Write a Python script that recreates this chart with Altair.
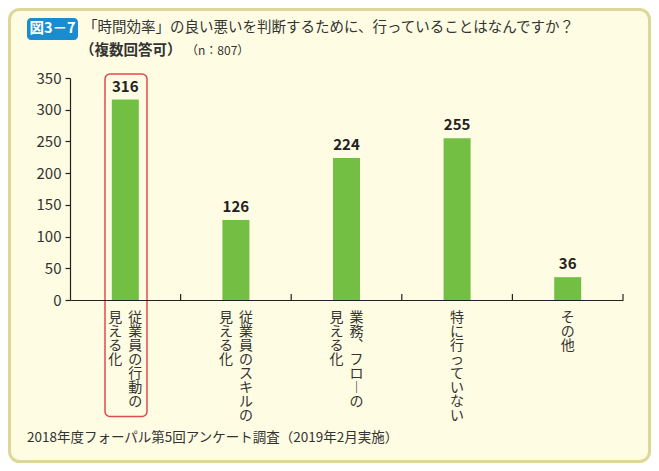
import altair as alt
import pandas as pd

# ---- data ----
col_main = ["従業員の行動の", "従業員のスキルの", "業務、フローの", "特に行っていない", "その他"]
col_sub = ["見える化", "見える化", "見える化", "", ""]
values = [316, 126, 224, 255, 36]
y_ticks = [0, 50, 100, 150, 200, 250, 300, 350]

title_line1 = "「時間効率」の良い悪いを判断するために、行っていることはなんですか？"
title_line2 = "（複数回答可）"
title_n = "（n：807）"
badge = "図3－7"
footnote = "2018年度フォーパル第5回アンケート調査（2019年2月実施）"

FONT = "Noto Sans CJK JP"
TXT = "#333333"
W, H = 553, 222

VERT = {"、": "︑", "ー": "︱"}


def vertical(s):
    return "\n".join(VERT.get(c, c) for c in s)


n = len(values)
bars = pd.DataFrame({"pos": [i + 0.5 for i in range(n)], "value": values})

rows = []
for i, (a, b) in enumerate(zip(col_main, col_sub)):
    if b:
        rows.append({"pos": i + 0.5, "t": vertical(a), "col": "right"})
        rows.append({"pos": i + 0.5, "t": vertical(b), "col": "left"})
    else:
        rows.append({"pos": i + 0.5, "t": vertical(a), "col": "single"})
labels = pd.DataFrame(rows)
bounds = pd.DataFrame({"b": list(range(1, n + 1))})

xs = alt.Scale(domain=[0, n], nice=False, zero=False, padding=0)
ys = alt.Scale(domain=[0, 350], nice=False, padding=0)

x_axis = alt.Axis(title=None, ticks=False, labels=False, grid=False,
                  domainColor="#222", domainWidth=1.2, zindex=2)
y_axis = alt.Axis(title=None, values=y_ticks, grid=False, tickSize=5,
                  tickColor="#222", tickWidth=1.2, domainColor="#222",
                  domainWidth=1.2, labelFont=FONT, labelFontSize=15,
                  labelColor=TXT, labelPadding=4, labelOverlap=False,
                  labelBound=False, labelFlush=False, zindex=2)

one = alt.Data(values=[{}])

frame = alt.Chart(one).mark_rect(
    fill="#FEFCE2", stroke="#DDD897", strokeWidth=3, cornerRadius=10
).encode(x=alt.value(-60.5), x2=alt.value(579.5), y=alt.value(-68.5), y2=alt.value(383.5))

badge_bg = alt.Chart(one).mark_rect(fill="#1A8DD0", cornerRadius=4).encode(
    x=alt.value(-43), x2=alt.value(8), y=alt.value(-60), y2=alt.value(-38)
)
badge_txt = alt.Chart(one).mark_text(
    text=badge, font=FONT, fontSize=14.5, fontWeight="bold", color="white", align="center", baseline="middle"
).encode(x=alt.value(-17.5), y=alt.value(-49))

t1 = alt.Chart(one).mark_text(
    text=title_line1, font=FONT, fontSize=14.5, color=TXT, align="left", baseline="middle"
).encode(x=alt.value(13), y=alt.value(-50))
t2 = alt.Chart(one).mark_text(
    text=title_line2, font=FONT, fontSize=14.5, fontWeight="bold", color=TXT, align="left", baseline="middle"
).encode(x=alt.value(10), y=alt.value(-27))
t3 = alt.Chart(one).mark_text(
    text=title_n, font=FONT, fontSize=12, color=TXT, align="left", baseline="middle"
).encode(x=alt.value(116), y=alt.value(-27))
foot = alt.Chart(one).mark_text(
    text=footnote, font=FONT, fontSize=13.5, color=TXT, align="left", baseline="middle"
).encode(x=alt.value(-43), y=alt.value(360))

base = alt.Chart(bars)
bar = base.mark_bar(color="#72BF44", size=27).encode(
    x=alt.X("pos:Q", scale=xs, axis=x_axis),
    y=alt.Y("value:Q", scale=ys, axis=y_axis),
)
vals = base.mark_text(font=FONT, fontSize=15, fontWeight="bold", color="#222", baseline="bottom", dy=-5).encode(
    x=alt.X("pos:Q", scale=xs, axis=x_axis), y=alt.Y("value:Q", scale=ys, axis=y_axis), text="value:Q"
)

ticks = alt.Chart(bounds).mark_rule(color="#222", strokeWidth=1.2).encode(
    x=alt.X("b:Q", scale=xs, axis=x_axis), y=alt.value(H - 6), y2=alt.value(H)
)


def lab(col, dx):
    return alt.Chart(labels).transform_filter(alt.datum.col == col).mark_text(
        font=FONT, fontSize=14, color=TXT, align="center", baseline="top", lineBreak="\n", lineHeight=14, dx=dx
    ).encode(x=alt.X("pos:Q", scale=xs, axis=x_axis), y=alt.value(H + 11), text="t:N")


redbox = alt.Chart(one).mark_rect(
    fill=None, stroke="#E04A50", strokeWidth=1.5, cornerRadius=5
).encode(x=alt.value(35), x2=alt.value(77), y=alt.value(-4), y2=alt.value(338.5))

chart = alt.layer(
    frame, badge_bg, badge_txt, t1, t2, t3, foot, bar, vals, ticks,
    lab("single", 0), lab("right", 10), lab("left", -10), redbox
).properties(
    width=W, height=H,
    autosize=alt.AutoSizeParams(type="none"),
    padding={"left": 62, "top": 70, "right": 28, "bottom": 163},
    background="white",
).configure_view(stroke=None)

chart.save("out.html", embed_options={"renderer": "svg", "actions": False})
